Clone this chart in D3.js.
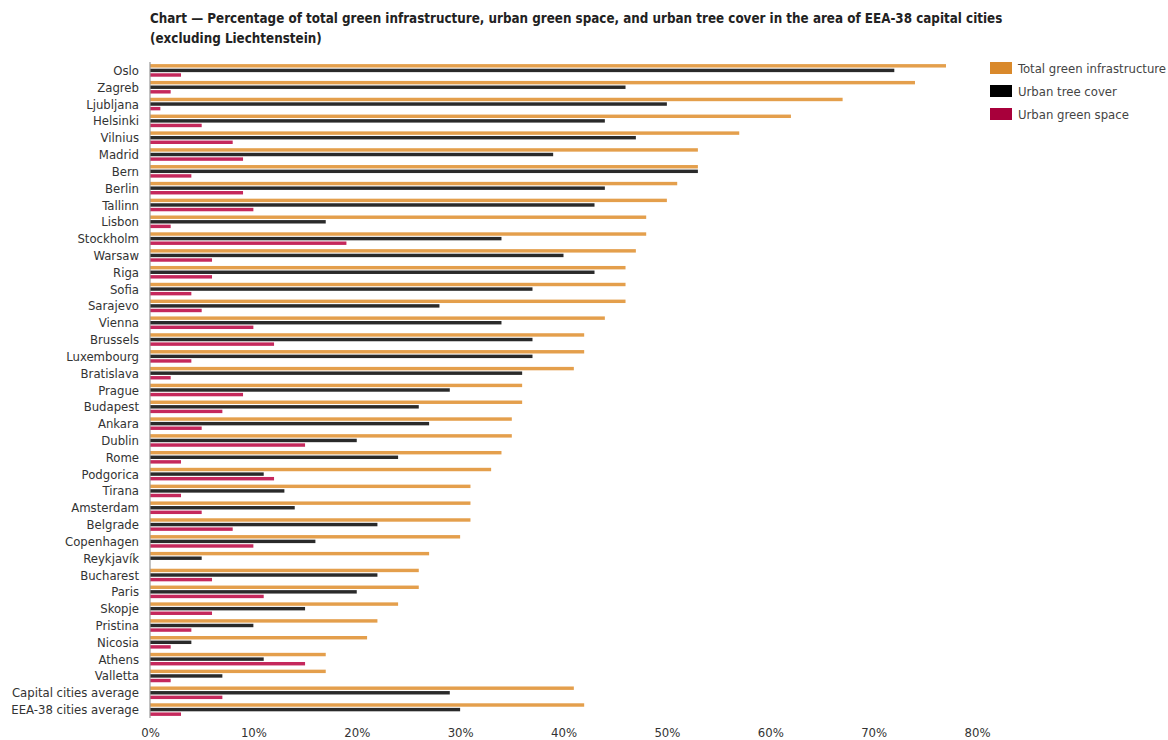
<!DOCTYPE html>
<html>
<head>
<meta charset="utf-8">
<script src="https://cdn.jsdelivr.net/npm/d3@7"></script>
<style>
  body { margin: 0; background: #fff; }
  svg text { font-family: "DejaVu Sans Condensed", "DejaVu Sans", sans-serif; font-stretch: condensed; }
</style>
</head>
<body>
<svg id="chart" width="1168" height="740"></svg>
<script>
// cities, top to bottom
const cities = ["Oslo", "Zagreb", "Ljubljana", "Helsinki", "Vilnius", "Madrid", "Bern", "Berlin", "Tallinn",
  "Lisbon", "Stockholm", "Warsaw", "Riga", "Sofia", "Sarajevo", "Vienna", "Brussels", "Luxembourg",
  "Bratislava", "Prague", "Budapest", "Ankara", "Dublin", "Rome", "Podgorica", "Tirana", "Amsterdam",
  "Belgrade", "Copenhagen", "Reykjavík", "Bucharest", "Paris", "Skopje", "Pristina", "Nicosia", "Athens",
  "Valletta", "Capital cities average", "EEA-38 cities average"];

const totalGreen = [77, 74, 67, 62, 57, 53, 53, 51, 50, 48, 48, 47, 46, 46, 46, 44, 42, 42, 41, 36, 36, 35, 35,
  34, 33, 31, 31, 31, 30, 27, 26, 26, 24, 22, 21, 17, 17, 41, 42];
const treeCover = [72, 46, 50, 44, 47, 39, 53, 44, 43, 17, 34, 40, 43, 37, 28, 34, 37, 37, 36, 29, 26, 27, 20,
  24, 11, 13, 14, 22, 16, 5, 22, 20, 15, 10, 4, 11, 7, 29, 30];
const greenSpace = [3, 2, 1, 5, 8, 9, 4, 9, 10, 2, 19, 6, 6, 4, 5, 10, 12, 4, 2, 9, 7, 5, 15,
  3, 12, 3, 5, 8, 10, 0, 6, 11, 6, 4, 2, 15, 2, 7, 3];

const seriesNames = ["Total green infrastructure", "Urban tree cover", "Urban green space"];
const seriesValues = [totalGreen, treeCover, greenSpace];
const barColors = ["#e49f4c", "#2a2a2a", "#c5285c"];
const legendColors = ["#d9892b", "#000000", "#a8003b"];
const xTicks = [0, 10, 20, 30, 40, 50, 60, 70, 80];

const svg = d3.select("#chart");

const x = d3.scaleLinear().domain([0, 80]).range([150, 977]);
const y = d3.scaleBand().domain(cities).range([62, 718]);
const sub = d3.scaleBand().domain(seriesNames).range([-6.3, 6.3]).paddingInner(0.25);

// title
const title = svg.append("text")
    .attr("x", 150)
    .attr("y", 23)
    .attr("font-size", 13.3)
    .attr("font-weight", "bold")
    .attr("fill", "#222");
title.append("tspan").attr("x", 150).text("Chart \u2014 Percentage of total green infrastructure, urban green space, and urban tree cover in the area of EEA-38 capital cities");
title.append("tspan").attr("x", 150).attr("dy", 20).text("(excluding Liechtenstein)");

// bars
const rows = cities.map((c, i) => ({ city: c, vals: seriesValues.map(s => s[i]) }));

const groups = svg.append("g").selectAll("g")
    .data(rows)
    .join("g")
    .attr("transform", d => `translate(0,${y(d.city) + y.bandwidth() / 2})`);

groups.selectAll("rect")
    .data(d => d.vals.map((v, k) => ({ name: seriesNames[k], v: v, k: k })))
    .join("rect")
    .attr("x", x(0))
    .attr("y", d => sub(d.name))
    .attr("width", d => x(d.v) - x(0))
    .attr("height", sub.bandwidth())
    .attr("fill", d => barColors[d.k]);

// city labels
svg.append("g").selectAll("text")
    .data(cities)
    .join("text")
    .attr("x", 139)
    .attr("y", d => y(d) + y.bandwidth() / 2)
    .attr("dy", "0.35em")
    .attr("text-anchor", "end")
    .attr("font-size", 13)
    .attr("fill", "#333")
    .text(d => d);

// vertical axis line
svg.append("line")
    .attr("x1", x(0)).attr("x2", x(0))
    .attr("y1", 62).attr("y2", 718)
    .attr("stroke", "#999")
    .attr("stroke-width", 1.2);

// x axis labels
const xAxis = svg.append("g")
    .attr("transform", "translate(0,722)")
    .call(d3.axisBottom(x).tickValues(xTicks).tickFormat(d => d + "%").tickSize(0).tickPadding(6));
xAxis.select(".domain").remove();
xAxis.selectAll("text")
    .attr("font-size", 13)
    .attr("fill", "#333")
    .style("font-family", "\"DejaVu Sans Condensed\", \"DejaVu Sans\", sans-serif");

// legend
const legend = svg.append("g").selectAll("g")
    .data(seriesNames)
    .join("g")
    .attr("transform", (d, i) => `translate(990,${62 + i * 23})`);
legend.append("rect")
    .attr("width", 22).attr("height", 12)
    .attr("fill", (d, i) => legendColors[i]);
legend.append("text")
    .attr("x", 28).attr("y", 6)
    .attr("dy", "0.35em")
    .attr("font-size", 13)
    .attr("fill", "#444")
    .text(d => d);
</script>
</body>
</html>
